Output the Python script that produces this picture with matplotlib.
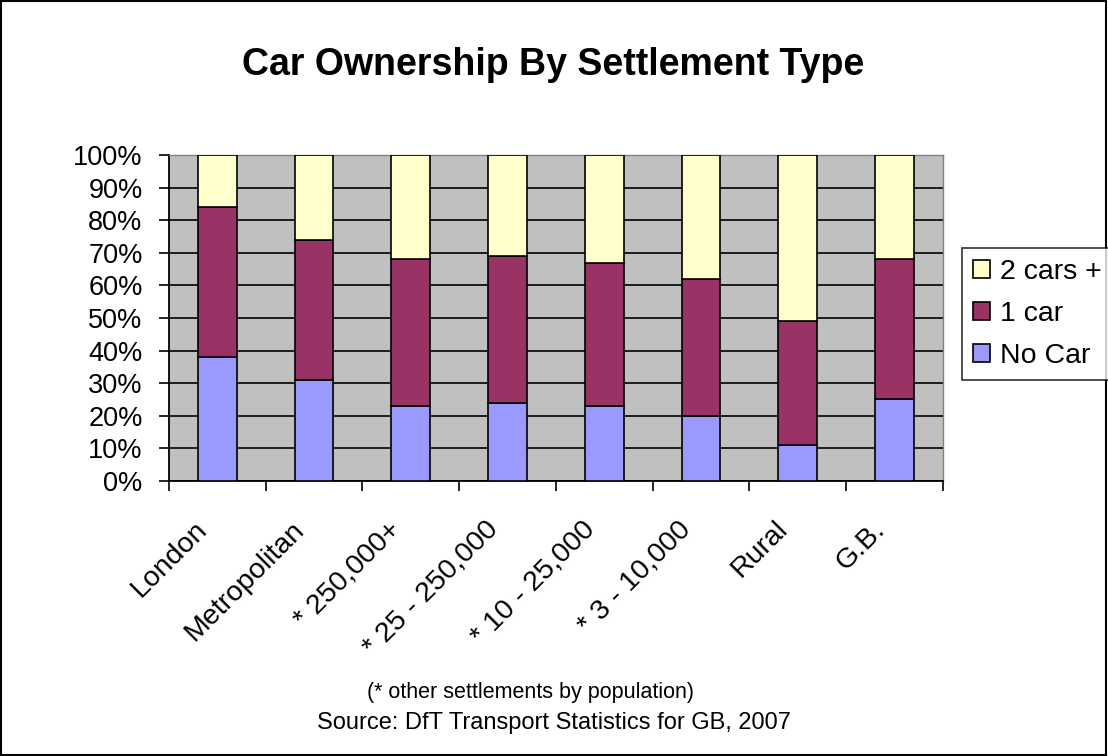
import numpy as np
import matplotlib.pyplot as plt
from matplotlib.patches import Rectangle
from matplotlib.ticker import FixedLocator, PercentFormatter

plt.rcParams['font.family'] = ['Liberation Sans', 'DejaVu Sans']

categories = ['London', 'Metropolitan', '* 250,000+', '* 25 - 250,000',
              '* 10 - 25,000', '* 3 - 10,000', 'Rural', 'G.B.']
no_car = [38, 31, 23, 24, 23, 20, 11, 25]
one_car = [46, 43, 45, 45, 44, 42, 38, 43]
two_cars = [16, 26, 32, 31, 33, 38, 51, 32]

series = [
    ('No Car', no_car, '#9999FF'),
    ('1 car', one_car, '#993366'),
    ('2 cars +', two_cars, '#FFFFCC'),
]

fig = plt.figure(figsize=(11.08, 7.56), dpi=100)
fig.patches.append(Rectangle((0.0005, 0.0007), 0.998, 0.998, transform=fig.transFigure,
                             fill=False, edgecolor='black', linewidth=1.5))

ax = fig.add_axes([0.1525, 0.3638, 0.6985, 0.4312])
ax.set_facecolor('#C0C0C0')

x = np.arange(len(categories))
bottom = np.zeros(len(categories))
handles = []
for name, vals, color in series:
    b = ax.bar(x, vals, bottom=bottom, width=0.4, color=color,
               edgecolor='black', linewidth=1.2, label=name, zorder=3)
    handles.append(b)
    bottom += np.array(vals)

ax.set_xlim(-0.5, len(categories) - 0.5)
ax.set_ylim(0, 100)
ax.yaxis.set_major_locator(FixedLocator(np.arange(0, 101, 10)))
ax.yaxis.set_major_formatter(PercentFormatter(decimals=0))
ax.yaxis.grid(True, color='black', linewidth=1.2)
ax.set_axisbelow(True)

# tick marks sit on the category boundaries, labels are placed under the centres
ax.set_xticks(np.arange(-0.5, len(categories)))
ax.set_xticklabels([''] * (len(categories) + 1))
for xi, cat in zip(x, categories):
    ax.annotate(cat, xy=(xi, 0), xycoords=('data', 'axes fraction'),
                xytext=(-10, -32), textcoords='offset points', rotation=45,
                ha='right', va='center', rotation_mode='anchor', fontsize=20.5,
                annotation_clip=False)
ax.tick_params(axis='x', length=7, width=1.2, direction='out')
ax.tick_params(axis='y', length=7, width=1.2, labelsize=19.5, pad=12)

for s in ['left', 'bottom']:
    ax.spines[s].set_linewidth(1.3)
    ax.spines[s].set_color('black')
for s in ['top', 'right']:
    ax.spines[s].set_linewidth(1.0)
    ax.spines[s].set_color('#808080')

fig.text(0.4995, 0.914, 'Car Ownership By Settlement Type', ha='center', va='center',
         fontsize=27, fontweight='bold')
fig.text(0.479, 0.084, '(* other settlements by population)', ha='center', va='center',
         fontsize=15.5)
fig.text(0.5, 0.043, 'Source: DfT Transport Statistics for GB, 2007', ha='center',
         va='center', fontsize=17)

leg = fig.legend(handles[::-1], [s[0] for s in series][::-1], loc='upper left',
                 bbox_to_anchor=(0.868, 0.672), fontsize=20.5, frameon=True,
                 fancybox=False, edgecolor='black', handlelength=0.6,
                 handleheight=0.6, handletextpad=0.33, labelspacing=0.55,
                 borderpad=0.4, borderaxespad=0)
leg.get_frame().set_linewidth(1.2)

fig.savefig('out.png', dpi=100)
